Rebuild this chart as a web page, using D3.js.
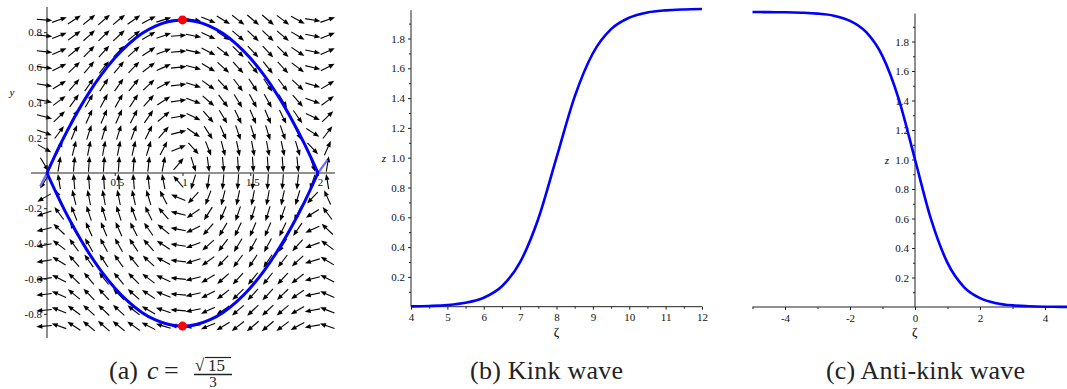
<!DOCTYPE html>
<html>
<head>
<meta charset="utf-8">
<script src="https://cdn.jsdelivr.net/npm/d3@7"></script>
<style>
body { margin: 0; background: #fff; }
</style>
</head>
<body>
<script>
const width = 1067
const height = 389
const font = "'Liberation Serif', 'Times New Roman', 'DejaVu Serif', serif"
const blue = "#0000ff"
const axisColor = "#222"

// (a) phase plane: heteroclinic orbit
const orbitZ     = [0, 0.1, 0.2, 0.3, 0.4, 0.5, 0.6, 0.7, 0.8, 0.9, 1.0, 1.1, 1.2, 1.3, 1.4, 1.5, 1.6, 1.7, 1.8, 1.9, 2.0]
const orbitUpper = [0, 0.165, 0.313, 0.444, 0.557, 0.653, 0.731, 0.792, 0.835, 0.861, 0.87, 0.861, 0.835, 0.792, 0.731, 0.653, 0.557, 0.444, 0.313, 0.165, 0]
const orbitLower = [0, -0.165, -0.313, -0.444, -0.557, -0.653, -0.731, -0.792, -0.835, -0.861, -0.87, -0.861, -0.835, -0.792, -0.731, -0.653, -0.557, -0.444, -0.313, -0.165, 0]
const stubLeftZ  = [0, -0.05]
const stubLeftY  = [0, -0.075]
const stubRightZ = [2, 2.07]
const stubRightY = [0, 0.075]
const peakZ = [1, 1]
const peakY = [0.87, -0.87]

// direction field grid (20 x 20)
const fieldCols = [-0.02, 0.09, 0.2, 0.31, 0.42, 0.53, 0.64, 0.75, 0.86, 0.97, 1.08, 1.19, 1.3, 1.41, 1.52, 1.63, 1.74, 1.85, 1.96, 2.07]
const fieldRows = [0.87, 0.78, 0.69, 0.6, 0.5, 0.41, 0.32, 0.23, 0.14, 0.05, -0.05, -0.14, -0.23, -0.32, -0.41, -0.5, -0.6, -0.69, -0.78, -0.87]
const amp = 0.87  // orbit height, sets the system z' = y, y' = 2 amp^2 z(1-z)(2-z)

const aTicksX = [0.5, 1, 1.5, 2]
const aTicksY = [-0.8, -0.6, -0.4, -0.2, 0.2, 0.4, 0.6, 0.8]

// (b) kink wave
const kinkZeta = [4, 4.5, 5, 5.5, 6, 6.5, 7, 7.5, 8, 8.5, 9, 9.5, 10, 10.5, 11, 11.5, 12]
const kinkZ    = [0.002, 0.005, 0.011, 0.026, 0.06, 0.137, 0.299, 0.59, 1.0, 1.41, 1.701, 1.863, 1.94, 1.975, 1.989, 1.995, 1.998]
const bTicksX = [4, 5, 6, 7, 8, 9, 10, 11, 12]
const bMinorX = [4.5, 5.5, 6.5, 7.5, 8.5, 9.5, 10.5, 11.5]

// (c) anti-kink wave
const antiZeta = [-5, -4.5, -4, -3.5, -3, -2.5, -2, -1.5, -1, -0.5, 0, 0.5, 1, 1.5, 2, 2.5, 3, 3.5, 4, 4.5, 5]
const antiZ    = [2.0, 1.999, 1.998, 1.995, 1.989, 1.975, 1.94, 1.863, 1.701, 1.41, 1.0, 0.59, 0.299, 0.137, 0.06, 0.026, 0.011, 0.005, 0.002, 0.001, 0.0]
const cTicksX = [-4, -2, 0, 2, 4]
const cMinorX = [-5, -3, -1, 1, 3]

const zTicks = [0.2, 0.4, 0.6, 0.8, 1.0, 1.2, 1.4, 1.6, 1.8]
const zMinor = [0.1, 0.3, 0.5, 0.7, 0.9, 1.1, 1.3, 1.5, 1.7, 1.9]

let svg = d3.select("body")
    .append("svg")
    .attr("width", width)
    .attr("height", height)
    .style("font-family", font)

svg.append("rect")
    .attr("width", "100%")
    .attr("height", "100%")
    .attr("fill", "white")

function styleAxis(g){
    g.select(".domain").remove()
    g.attr("font-family", null).attr("font-size", 11)
    g.selectAll("line").attr("stroke", axisColor)
    g.selectAll("text").attr("fill", "#111")
}

////////////////////////////// (a)

let xa = d3.scaleLinear().domain([0, 2]).range([47, 318])
let ya = d3.scaleLinear().domain([0, 0.8]).range([173, 32.2])

let field = []
fieldRows.forEach(y => fieldCols.forEach(z => field.push({z: z, y: y})))

let arrowG = svg.append("g")
    .selectAll(".arrow")
    .data(field)
    .enter()
    .append("g")
    .attr("transform", function(d){
        let dz = d.y
        let dy = 2*amp*amp*d.z*(1 - d.z)*(2 - d.z)
        let sx = dz*(xa(1) - xa(0))
        let sy = dy*(ya(1) - ya(0))
        let ang = Math.atan2(sy, sx)*180/Math.PI
        return `translate(${xa(d.z)},${ya(d.y)}) rotate(${ang})`
    })

arrowG.append("line")
    .attr("x1", -7.5).attr("x2", 2.5)
    .attr("y1", 0).attr("y2", 0)
    .attr("stroke", "black")
    .attr("stroke-width", 1.1)

arrowG.append("polygon")
    .attr("points", "8,0 2,-2.4 2,2.4")
    .attr("fill", "black")

// axes of (a)
svg.append("line")
    .attr("x1", 31).attr("x2", 335)
    .attr("y1", ya(0)).attr("y2", ya(0))
    .attr("stroke", axisColor).attr("stroke-width", 1)
svg.append("line")
    .attr("x1", xa(0)).attr("x2", xa(0))
    .attr("y1", 7).attr("y2", 338)
    .attr("stroke", axisColor).attr("stroke-width", 1)

svg.append("g")
    .attr("transform", `translate(0,${ya(0)})`)
    .call(d3.axisBottom(xa).tickValues(aTicksX).tickSize(3).tickPadding(2).tickFormat(d => d))
    .call(styleAxis)
    .selectAll("text").attr("dx", 2)

svg.append("g")
    .attr("transform", `translate(${xa(0)},0)`)
    .call(d3.axisLeft(ya).tickValues(aTicksY).tickSize(3).tickPadding(2).tickFormat(d => d.toFixed(1)))
    .call(styleAxis)

svg.append("text")
    .attr("x", 12).attr("y", 96)
    .attr("text-anchor", "middle")
    .attr("font-style", "italic").attr("font-size", 11)
    .text("y")

// orbit
let lineA = d3.line().x(d => xa(d[0])).y(d => ya(d[1])).curve(d3.curveCatmullRom)

svg.append("path")
    .datum(d3.zip(stubLeftZ, stubLeftY))
    .attr("d", d3.line().x(d => xa(d[0])).y(d => ya(d[1])))
    .attr("stroke", "#6b6bff").attr("stroke-width", 2.2).attr("fill", "none")
svg.append("path")
    .datum(d3.zip(stubRightZ, stubRightY))
    .attr("d", d3.line().x(d => xa(d[0])).y(d => ya(d[1])))
    .attr("stroke", "#6b6bff").attr("stroke-width", 2.2).attr("fill", "none")

svg.selectAll(".orbit")
    .data([d3.zip(orbitZ, orbitUpper), d3.zip(orbitZ, orbitLower)])
    .enter()
    .append("path")
    .attr("d", lineA)
    .attr("stroke", blue)
    .attr("stroke-width", 3)
    .attr("fill", "none")

svg.selectAll(".peak")
    .data(d3.zip(peakZ, peakY))
    .enter()
    .append("circle")
    .attr("cx", d => xa(d[0]))
    .attr("cy", d => ya(d[1]))
    .attr("r", 4.5)
    .attr("fill", "red")

////////////////////////////// (b) and (c)

function wavePanel(xs, ys, xTop, minorX, majorX, xFmt, zetaArr, zArr, zLabelX){
    let yAxisX = xs(xTop)
    svg.append("line")
        .attr("x1", xs.range()[0]).attr("x2", Math.min(xs.range()[1], width))
        .attr("y1", ys(0)).attr("y2", ys(0))
        .attr("stroke", axisColor)
    svg.append("line")
        .attr("x1", yAxisX).attr("x2", yAxisX)
        .attr("y1", ys(0)).attr("y2", ys(1.99))
        .attr("stroke", axisColor)

    svg.append("g")
        .attr("transform", `translate(0,${ys(0)})`)
        .call(d3.axisBottom(xs).tickValues(majorX).tickSize(3).tickPadding(4).tickFormat(xFmt))
        .call(styleAxis)
    svg.append("g")
        .attr("transform", `translate(0,${ys(0)})`)
        .call(d3.axisBottom(xs).tickValues(minorX).tickSize(2).tickFormat(""))
        .call(styleAxis)
    svg.append("g")
        .attr("transform", `translate(${yAxisX},0)`)
        .call(d3.axisLeft(ys).tickValues(zTicks).tickSize(3).tickPadding(3).tickFormat(d => d.toFixed(1)))
        .call(styleAxis)
    svg.append("g")
        .attr("transform", `translate(${yAxisX},0)`)
        .call(d3.axisLeft(ys).tickValues(zMinor).tickSize(2).tickFormat(""))
        .call(styleAxis)

    svg.append("text")
        .attr("x", zLabelX).attr("y", ys(1) + 4)
        .attr("text-anchor", "middle")
        .attr("font-style", "italic").attr("font-size", 11)
        .text("z")
    svg.append("text")
        .attr("x", (xs.range()[0] + Math.min(xs.range()[1], width + 10))/2).attr("y", 336)
        .attr("text-anchor", "middle")
        .attr("font-size", 13)
        .text("ζ")

    svg.append("path")
        .datum(d3.zip(zetaArr, zArr))
        .attr("d", d3.line().x(d => xs(d[0])).y(d => ys(d[1])).curve(d3.curveMonotoneX))
        .attr("stroke", blue)
        .attr("stroke-width", 2.6)
        .attr("fill", "none")
}

let xb = d3.scaleLinear().domain([4, 12]).range([411, 702])
let yb = d3.scaleLinear().domain([0, 2]).range([306.7, 8.7])
wavePanel(xb, yb, 4, bMinorX, bTicksX, d => d, kinkZeta, kinkZ, 384)

let xc = d3.scaleLinear().domain([-5, 5]).range([752.5, 1077.5])
let yc = d3.scaleLinear().domain([0, 2]).range([307, 12])
wavePanel(xc, yc, 0, cMinorX, cTicksX, d => String(d), antiZeta, antiZ, 887)

////////////////////////////// captions

let cap = svg.append("g")
    .attr("fill", "#222")

cap.append("text").attr("x", 109).attr("y", 379).attr("font-size", 26).text("(a)")
cap.append("text").attr("x", 147).attr("y", 379).attr("font-size", 26).attr("font-style", "italic").text("c")
cap.append("text").attr("x", 164).attr("y", 379).attr("font-size", 26).text("=")
cap.append("text").attr("x", 195).attr("y", 371).attr("font-size", 17).text("√")
cap.append("text").attr("x", 208).attr("y", 371).attr("font-size", 17).text("15")
cap.append("line").attr("x1", 205).attr("x2", 231).attr("y1", 357.5).attr("y2", 357.5)
    .attr("stroke", "#222").attr("stroke-width", 1.2)
cap.append("line").attr("x1", 194).attr("x2", 232).attr("y1", 374.5).attr("y2", 374.5)
    .attr("stroke", "#222").attr("stroke-width", 1.4)
cap.append("text").attr("x", 213).attr("y", 387).attr("font-size", 15).attr("text-anchor", "middle").text("3")

cap.append("text").attr("x", 470).attr("y", 379).attr("font-size", 26)
    .attr("textLength", 153).attr("lengthAdjust", "spacing").text("(b) Kink wave")
cap.append("text").attr("x", 826).attr("y", 379).attr("font-size", 26)
    .attr("textLength", 199).attr("lengthAdjust", "spacing").text("(c) Anti-kink wave")
</script>
</body>
</html>
